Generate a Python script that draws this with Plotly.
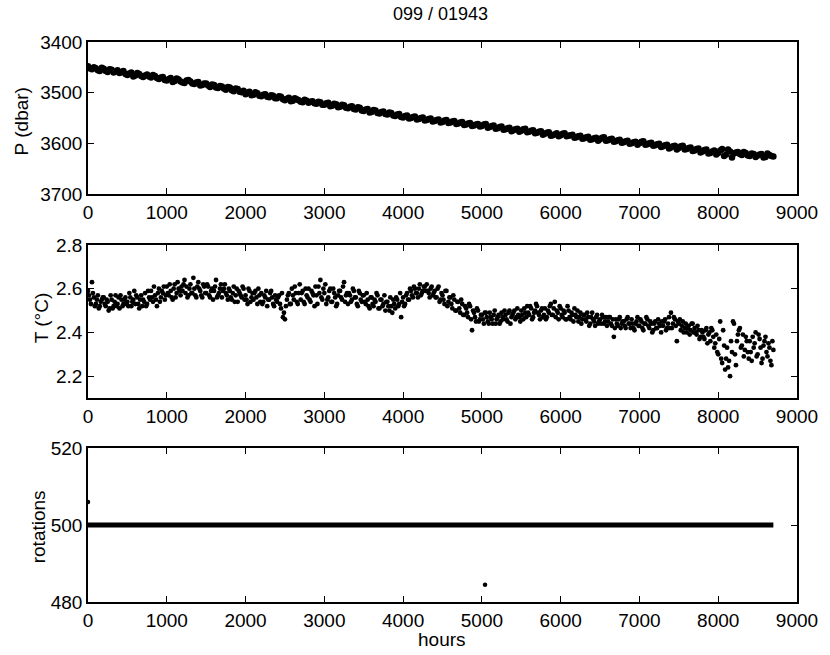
import plotly.graph_objects as go

# ---------------- data ----------------
title_text = "099 / 01943"

hours_p = list(range(0, 8701, 50))
pressure = [
    3448, 3454, 3452, 3457, 3453, 3459, 3455, 3458, 3461, 3457,
    3465, 3460, 3466, 3463, 3469, 3464, 3470, 3467, 3473, 3469,
    3476, 3471, 3477, 3474, 3480, 3476, 3478, 3483, 3479, 3485,
    3482, 3489, 3485, 3491, 3488, 3494, 3490, 3497, 3493, 3499,
    3503, 3498, 3504, 3501, 3507, 3503, 3509, 3506, 3511, 3508,
    3515, 3510, 3516, 3513, 3518, 3514, 3520, 3517, 3522, 3519,
    3524, 3520, 3526, 3523, 3528, 3525, 3531, 3527, 3533, 3530,
    3536, 3532, 3538, 3535, 3541, 3537, 3543, 3540, 3546, 3542,
    3549, 3545, 3550, 3547, 3552, 3549, 3554, 3551, 3556, 3553,
    3558, 3554, 3559, 3556, 3561, 3558, 3563, 3560, 3565, 3562,
    3566, 3562, 3568, 3565, 3570, 3567, 3572, 3569, 3574, 3571,
    3575, 3571, 3577, 3574, 3579, 3576, 3581, 3578, 3584, 3580,
    3584, 3580, 3585, 3583, 3588, 3585, 3590, 3587, 3592, 3589,
    3592, 3588, 3594, 3591, 3596, 3593, 3598, 3595, 3600, 3597,
    3600, 3596, 3602, 3599, 3604, 3601, 3606, 3603, 3608, 3605,
    3609, 3605, 3611, 3608, 3614, 3610, 3616, 3612, 3619, 3614,
    3619, 3611, 3622, 3616, 3620, 3617, 3623, 3619, 3625, 3621,
    3624, 3621, 3627, 3623, 3626,
]

hours_p2 = list(range(25, 8700, 50))
pressure2 = [
    3452, 3450, 3456, 3451, 3457, 3454, 3460, 3456, 3459, 3463,
    3462, 3468, 3461, 3467, 3466, 3468, 3465, 3471, 3470, 3475,
    3473, 3479, 3472, 3478, 3481, 3475, 3482, 3480, 3486, 3482,
    3486, 3484, 3490, 3487, 3492, 3489, 3495, 3492, 3498, 3496,
    3500, 3505, 3499, 3506, 3504, 3508, 3505, 3511, 3507, 3513,
    3512, 3517, 3511, 3515, 3519, 3516, 3518, 3521, 3518, 3524,
    3521, 3527, 3522, 3529, 3524, 3530, 3528, 3532, 3529, 3535,
    3533, 3539, 3534, 3540, 3538, 3542, 3539, 3545, 3543, 3548,
    3546, 3551, 3548, 3553, 3550, 3555, 3552, 3557, 3554, 3559,
    3555, 3560, 3557, 3562, 3559, 3564, 3561, 3566, 3563, 3567,
    3563, 3569, 3566, 3571, 3568, 3573, 3570, 3576, 3572, 3577,
    3572, 3578, 3575, 3580, 3577, 3583, 3579, 3585, 3582, 3586,
    3581, 3586, 3584, 3589, 3586, 3591, 3588, 3593, 3590, 3595,
    3589, 3595, 3592, 3597, 3594, 3599, 3596, 3601, 3598, 3603,
    3597, 3603, 3600, 3605, 3602, 3607, 3604, 3610, 3606, 3612,
    3606, 3612, 3609, 3615, 3611, 3618, 3613, 3620, 3616, 3622,
    3614, 3625, 3612, 3628, 3618, 3621, 3617, 3624, 3620, 3627,
    3622, 3628, 3620, 3625,
]

hours_t = list(range(0, 8701, 25))
temperature = [
    2.59, 2.55, 2.63, 2.56,  2.53, 2.57, 2.52, 2.55,  2.56, 2.52, 2.54, 2.51,
    2.55, 2.52, 2.57, 2.53,  2.51, 2.55, 2.53, 2.56,  2.54, 2.58, 2.52, 2.55,
    2.53, 2.56, 2.51, 2.57,  2.55, 2.58, 2.53, 2.56,  2.59, 2.54, 2.57, 2.52,
    2.60, 2.56, 2.58, 2.55,  2.61, 2.57, 2.59, 2.55,  2.62, 2.58, 2.60, 2.57,
    2.59, 2.64, 2.61, 2.57,  2.62, 2.58, 2.60, 2.56,  2.63, 2.59, 2.56, 2.61,
    2.58, 2.61, 2.56, 2.60,  2.59, 2.64, 2.57, 2.60,  2.56, 2.60, 2.58, 2.55,
    2.59, 2.55, 2.61, 2.57,  2.54, 2.58, 2.56, 2.60,  2.57, 2.53, 2.59, 2.56,
    2.55, 2.59, 2.53, 2.57,  2.58, 2.54, 2.56, 2.52,  2.55, 2.59, 2.53, 2.57,
    2.54, 2.57, 2.51, 2.47,  2.46, 2.55, 2.58, 2.53,  2.57, 2.61, 2.54, 2.58,
    2.55, 2.59, 2.53, 2.57,  2.60, 2.54, 2.58, 2.52,  2.57, 2.61, 2.64, 2.55,
    2.58, 2.53, 2.56, 2.60,  2.54, 2.58, 2.52, 2.57,  2.59, 2.55, 2.63, 2.57,
    2.53, 2.57, 2.55, 2.59,  2.56, 2.52, 2.58, 2.54,  2.57, 2.53, 2.55, 2.51,
    2.56, 2.52, 2.54, 2.57,  2.51, 2.55, 2.53, 2.50,  2.54, 2.50, 2.52, 2.55,
    2.51, 2.55, 2.53, 2.47,  2.56, 2.53, 2.58, 2.55,  2.59, 2.56, 2.60, 2.58,
    2.60, 2.57, 2.59, 2.61,  2.62, 2.58, 2.60, 2.57,  2.59, 2.56, 2.61, 2.55,
    2.57, 2.53, 2.59, 2.54,  2.56, 2.51, 2.55, 2.50,  2.54, 2.49, 2.53, 2.48,
    2.51, 2.47, 2.52, 2.41,  2.49, 2.45, 2.50, 2.46,  2.48, 2.44, 2.49, 2.45,
    2.49, 2.46, 2.48, 2.44,  2.47, 2.44, 2.49, 2.46,  2.48, 2.45, 2.50, 2.47,
    2.49, 2.46, 2.51, 2.47,  2.50, 2.46, 2.49, 2.52,  2.48, 2.51, 2.47, 2.50,
    2.52, 2.48, 2.50, 2.47,  2.51, 2.47, 2.49, 2.53,  2.48, 2.54, 2.50, 2.46,
    2.51, 2.47, 2.49, 2.46,  2.50, 2.46, 2.48, 2.51,  2.47, 2.45, 2.49, 2.46,
    2.48, 2.45, 2.47, 2.44,  2.49, 2.45, 2.47, 2.44,  2.46, 2.48, 2.44, 2.47,
    2.45, 2.47, 2.43, 2.38,  2.46, 2.43, 2.47, 2.44,  2.45, 2.42, 2.47, 2.44,
    2.46, 2.42, 2.44, 2.47,  2.43, 2.45, 2.41, 2.44,  2.46, 2.42, 2.44, 2.41,
    2.45, 2.42, 2.44, 2.40,  2.43, 2.46, 2.42, 2.47,  2.49, 2.44, 2.46, 2.36,
    2.44, 2.41, 2.45, 2.42,  2.40, 2.43, 2.41, 2.44,  2.42, 2.39, 2.41, 2.38,
    2.40, 2.37, 2.42, 2.39,  2.36, 2.41, 2.33, 2.39,  2.30, 2.45, 2.26, 2.34,
    2.28, 2.24, 2.20, 2.31,  2.44, 2.25, 2.39, 2.42,  2.34, 2.29, 2.38, 2.31,
    2.36, 2.27, 2.33, 2.40,  2.30, 2.37, 2.26, 2.34,  2.38, 2.29, 2.33, 2.25,
    2.32,
]

hours_t2 = [12.5 + 25 * k for k in range(348)]
temperature2 = [
    2.57, 2.53, 2.58, 2.52,  2.55, 2.51, 2.54, 2.56,  2.53, 2.55, 2.50, 2.57,
    2.51, 2.54, 2.52, 2.56,  2.57, 2.52, 2.55, 2.53,  2.52, 2.56, 2.54, 2.59,
    2.57, 2.53, 2.55, 2.52,  2.54, 2.52, 2.59, 2.55,  2.56, 2.61, 2.55, 2.58,
    2.54, 2.59, 2.61, 2.57,  2.58, 2.62, 2.56, 2.60,  2.56, 2.63, 2.59, 2.61,
    2.62, 2.58, 2.56, 2.60,  2.58, 2.65, 2.57, 2.61,  2.60, 2.57, 2.62, 2.58,
    2.62, 2.57, 2.59, 2.55,  2.61, 2.56, 2.58, 2.62,  2.59, 2.62, 2.57, 2.60,
    2.56, 2.58, 2.54, 2.60,  2.59, 2.57, 2.61, 2.55,  2.55, 2.60, 2.54, 2.58,
    2.58, 2.56, 2.60, 2.54,  2.53, 2.57, 2.59, 2.55,  2.58, 2.56, 2.52, 2.55,
    2.56, 2.53, 2.58, 2.49,  2.52, 2.57, 2.53, 2.60,  2.55, 2.58, 2.53, 2.62,
    2.58, 2.54, 2.60, 2.56,  2.55, 2.59, 2.57, 2.61,  2.53, 2.58, 2.56, 2.60,
    2.62, 2.55, 2.59, 2.54,  2.60, 2.56, 2.53, 2.59,  2.56, 2.61, 2.54, 2.58,
    2.58, 2.54, 2.60, 2.56,  2.53, 2.59, 2.55, 2.57,  2.54, 2.58, 2.52, 2.56,
    2.53, 2.55, 2.58, 2.51,  2.55, 2.52, 2.57, 2.54,  2.52, 2.56, 2.49, 2.53,
    2.56, 2.52, 2.58, 2.54,  2.52, 2.57, 2.55, 2.60,  2.57, 2.61, 2.58, 2.56,
    2.62, 2.58, 2.61, 2.59,  2.59, 2.56, 2.61, 2.58,  2.56, 2.60, 2.54, 2.58,
    2.55, 2.59, 2.52, 2.56,  2.53, 2.57, 2.50, 2.54,  2.51, 2.55, 2.48, 2.52,
    2.49, 2.53, 2.46, 2.50,  2.47, 2.51, 2.45, 2.48,  2.46, 2.49, 2.47, 2.44,
    2.47, 2.44, 2.50, 2.46,  2.48, 2.45, 2.47, 2.50,  2.46, 2.49, 2.44, 2.48,
    2.50, 2.47, 2.48, 2.45,  2.48, 2.51, 2.47, 2.49,  2.52, 2.46, 2.49, 2.53,
    2.49, 2.46, 2.51, 2.48,  2.46, 2.50, 2.52, 2.48,  2.51, 2.47, 2.49, 2.52,
    2.48, 2.50, 2.46, 2.52,  2.47, 2.49, 2.45, 2.48,  2.50, 2.47, 2.44, 2.48,
    2.46, 2.49, 2.43, 2.47,  2.46, 2.43, 2.48, 2.45,  2.44, 2.47, 2.45, 2.43,
    2.47, 2.44, 2.46, 2.42,  2.44, 2.46, 2.42, 2.45,  2.43, 2.46, 2.44, 2.42,
    2.44, 2.41, 2.45, 2.43,  2.46, 2.42, 2.44, 2.47,  2.43, 2.45, 2.40, 2.44,
    2.42, 2.46, 2.43, 2.45,  2.45, 2.41, 2.44, 2.42,  2.42, 2.47, 2.43, 2.45,
    2.46, 2.43, 2.40, 2.44,  2.42, 2.39, 2.44, 2.40,  2.40, 2.43, 2.37, 2.41,
    2.38, 2.41, 2.35, 2.40,  2.42, 2.38, 2.35, 2.31,  2.37, 2.28, 2.41, 2.23,
    2.33, 2.27, 2.36, 2.45,  2.30, 2.36, 2.41, 2.33,  2.39, 2.32, 2.36, 2.28,
    2.31, 2.38, 2.35, 2.29,  2.39, 2.33, 2.28, 2.36,  2.31, 2.35, 2.27, 2.36,
]

rot_hours = [0, 500, 1000, 1500, 2000, 2500, 3000, 3500, 4000, 4500,
             5000, 5500, 6000, 6500, 7000, 7500, 8000, 8500, 8700]
rotations = [500, 500, 500, 500, 500, 500, 500, 500, 500, 500,
             500, 500, 500, 500, 500, 500, 500, 500, 500]
rot_out_hours = [0, 5040]
rot_out_vals = [506, 484.5]

x_ticks = [0, 1000, 2000, 3000, 4000, 5000, 6000, 7000, 8000, 9000]
p_ticks = [3400, 3500, 3600, 3700]
t_ticks = [2.2, 2.4, 2.6, 2.8]
t_tick_text = ["2.2", "2.4", "2.6", "2.8"]
r_ticks = [480, 500, 520]

# ---------------- figure ----------------
def trim(xs, ys):
    k = min(len(xs), len(ys))
    return xs[:k], ys[:k]

W, H = 830, 655
L, T = 88, 42
R = W - 801
B = H - 602
PW, PH = W - L - R, H - T - B

def px_x(px):
    return (px - L) / PW

def px_y(py):
    return (H - B - py) / PH

fig = go.Figure()
for hx, pv in ((hours_p, pressure), (hours_p2, pressure2)):
    xs, ys = trim(hx, pv)
    fig.add_trace(go.Scatter(x=xs, y=ys, mode="markers",
                             marker=dict(color="black", size=6.5, line=dict(width=0)),
                             xaxis="x", yaxis="y", showlegend=False))
for hx, tv in ((hours_t, temperature), (hours_t2, temperature2)):
    xs, ys = trim(hx, tv)
    fig.add_trace(go.Scatter(x=xs, y=ys, mode="markers",
                             marker=dict(color="black", size=4.8, line=dict(width=0)),
                             xaxis="x2", yaxis="y2", showlegend=False))
fig.add_trace(go.Scatter(x=rot_hours, y=rotations, mode="lines",
                         line=dict(color="black", width=5),
                         xaxis="x3", yaxis="y3", showlegend=False))
fig.add_trace(go.Scatter(x=rot_out_hours, y=rot_out_vals, mode="markers",
                         marker=dict(color="black", size=4.5),
                         xaxis="x3", yaxis="y3", showlegend=False))

ax = dict(showline=True, linecolor="black", linewidth=1.5, mirror="ticks",
          ticks="inside", ticklen=6, tickwidth=1.2, tickcolor="black",
          showgrid=False, zeroline=False)

label_font = dict(family="Liberation Sans, Arial, sans-serif", size=19, color="black")

fig.update_layout(
    width=W, height=H,
    margin=dict(l=L, r=R, t=T, b=B),
    paper_bgcolor="white", plot_bgcolor="white",
    font=dict(family="Liberation Sans, Arial, sans-serif", size=19, color="black"),
    xaxis=dict(ax, domain=[0, 1], anchor="y", range=[0, 9000], tickvals=x_ticks),
    yaxis=dict(ax, domain=[px_y(194), 1.0], anchor="x", range=[3700, 3400],
               tickvals=p_ticks),
    xaxis2=dict(ax, domain=[0, 1], anchor="y2", range=[0, 9000], tickvals=x_ticks),
    yaxis2=dict(ax, domain=[px_y(398), px_y(245)], anchor="x2", range=[2.0999, 2.8001],
                tickvals=t_ticks, ticktext=t_tick_text),
    xaxis3=dict(ax, domain=[0, 1], anchor="y3", range=[0, 9000], tickvals=x_ticks),
    yaxis3=dict(ax, domain=[0, px_y(448)], anchor="x3", range=[480, 520],
                tickvals=r_ticks),
    annotations=[
        dict(text=title_text, xref="paper", yref="paper", x=px_x(442), y=px_y(14),
             xanchor="center", yanchor="middle", showarrow=False,
             font=dict(label_font, size=18)),
        dict(text="P (dbar)", xref="paper", yref="paper", x=px_x(21), y=px_y(121),
             xanchor="center", yanchor="middle", showarrow=False, textangle=-90,
             font=label_font),
        dict(text="T (°C)", xref="paper", yref="paper", x=px_x(41), y=px_y(318),
             xanchor="center", yanchor="middle", showarrow=False, textangle=-90,
             font=label_font),
        dict(text="rotations", xref="paper", yref="paper", x=px_x(38), y=px_y(527),
             xanchor="center", yanchor="middle", showarrow=False, textangle=-90,
             font=label_font),
        dict(text="hours", xref="paper", yref="paper", x=px_x(444), y=px_y(639),
             xanchor="center", yanchor="middle", showarrow=False,
             font=label_font),
    ],
)

# remove the browser's default 8px page margin so the figure fills the window,
# and hide the interactive mode bar
fig.write_html("out.html", config={"displayModeBar": False},
               post_script="document.body.style.margin='0px';")
